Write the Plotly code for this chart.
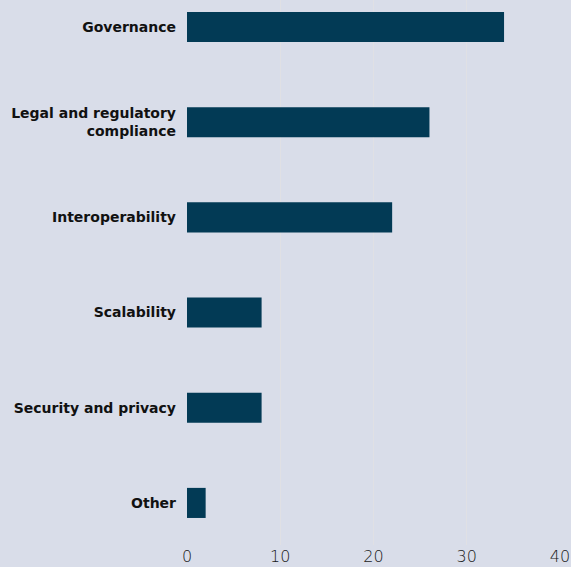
import plotly.graph_objects as go

categories = ["Governance", "Legal and regulatory<br>compliance", "Interoperability",
              "Scalability", "Security and privacy", "Other"]
values = [34, 26, 22, 8, 8, 2]
x_ticks = [0, 10, 20, 30, 40]

fig = go.Figure(go.Bar(
    x=values, y=categories, orientation="h",
    marker=dict(color="#023a55", line=dict(width=0)),
    width=0.316,
))

fig.update_layout(
    width=571, height=567,
    margin=dict(l=187, r=11, t=0, b=22),
    paper_bgcolor="#d9dde9", plot_bgcolor="#d9dde9",
    showlegend=False,
    xaxis=dict(range=[0, 40], tickvals=x_ticks, showgrid=True, gridcolor="#e0e0e4",
               gridwidth=1, zeroline=False, showline=False,
               tickfont=dict(family="DejaVu Sans", size=16, color="#1a1a1a", weight=200)),
    yaxis=dict(type="category", range=[5.442, -0.284], showgrid=False, zeroline=False,
               ticks="", ticklabelstandoff=10,
               tickfont=dict(family="DejaVu Sans", size=14, color="#111", weight="bold")),
)

fig.write_html("out.html")
